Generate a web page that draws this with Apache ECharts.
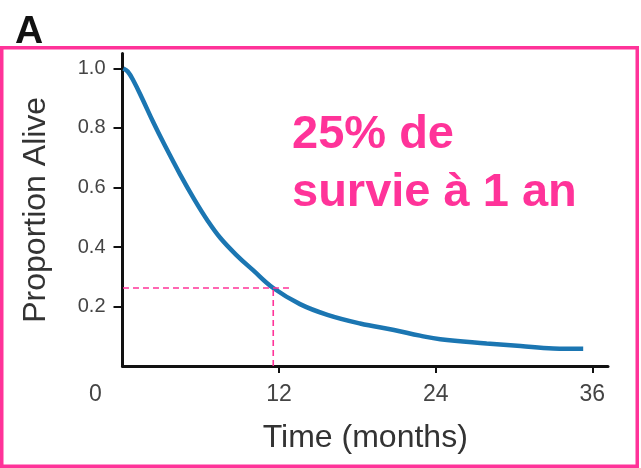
<!DOCTYPE html>
<html>
<head>
<meta charset="utf-8">
<script src="https://cdn.jsdelivr.net/npm/echarts@6/dist/echarts.min.js"></script>
<style>
  html, body { margin: 0; padding: 0; background: #fff; }
  #chart { width: 641px; height: 468px; }
</style>
</head>
<body>
<div id="chart"></div>
<script>
// Kaplan-Meier style survival curve: months since start vs proportion alive
const months   = [0.06, 0.4, 0.85, 1.5, 2.35, 3.2, 4.4, 5.5, 6.5, 7.5, 8.75, 10.0, 11.55, 13.6, 15.7, 18.2, 20.8, 22.8, 24.35, 27.9, 30.5, 33.0, 35.3];
const survival = [1.0, 0.99, 0.958, 0.90, 0.82, 0.745, 0.645, 0.56, 0.49, 0.43, 0.372, 0.322, 0.262, 0.208, 0.172, 0.143, 0.121, 0.102, 0.090, 0.076, 0.067, 0.059, 0.058];

// axis ticks and labels
const xTicks  = [12, 24, 36];
const xLabels = [0, 12, 24, 36];
const yTicks  = [0.2, 0.4, 0.6, 0.8, 1.0];

// one-year reference point
const guideMonth = 11.55;
const guideValue = 0.262;
const guideFrom  = -0.73;
const guideTo    = 12.8;

const annotation = ['25% de', 'survie à 1 an'];

const pink = '#ff3399';
const curveData = months.map((m, i) => [m, survival[i]]);

const chart = echarts.init(document.getElementById('chart'), null, { renderer: 'canvas' });

chart.setOption({
  animation: false,
  backgroundColor: '#ffffff',
  grid: { left: 122.5, right: 33, top: 53.6, bottom: 102, containLabel: false },
  xAxis: {
    type: 'value',
    min: 0,
    max: 37.2,
    interval: 12,
    name: 'Time (months)',
    nameLocation: 'middle',
    nameGap: 56,
    nameTextStyle: { fontFamily: 'Liberation Sans', fontSize: 32, color: '#333' },
    axisLine: { show: true, lineStyle: { color: '#111', width: 3 } },
    axisTick: { show: true, customValues: xTicks, length: 7, lineStyle: { color: '#111', width: 2 } },
    axisLabel: {
      customValues: xLabels,
      margin: 17,
      fontFamily: 'Liberation Sans',
      fontSize: 23,
      color: '#444',
      formatter: v => v === 0 ? '{z|0}' : String(v),
      rich: { z: { fontFamily: 'Liberation Sans', fontSize: 23, color: '#444', padding: [0, 54, 0, 0] } }
    },
    splitLine: { show: false }
  },
  yAxis: {
    type: 'value',
    min: 0,
    max: 1.05,
    interval: 0.2,
    name: 'Proportion Alive',
    nameLocation: 'middle',
    nameGap: 70,
    nameTextStyle: { fontFamily: 'Liberation Sans', fontSize: 32, color: '#333' },
    axisLine: { show: true, lineStyle: { color: '#111', width: 3 } },
    axisTick: { show: true, customValues: yTicks, length: 9, lineStyle: { color: '#111', width: 2 } },
    axisLabel: {
      customValues: yTicks,
      margin: 17,
      fontFamily: 'Liberation Sans',
      fontSize: 20,
      color: '#444',
      formatter: v => v.toFixed(1)
    },
    splitLine: { show: false }
  },
  series: [
    {
      name: 'survival',
      type: 'line',
      data: curveData,
      smooth: 0.4,
      showSymbol: false,
      symbol: 'none',
      lineStyle: { color: '#1b76b2', width: 4.5 },
      z: 3
    },
    {
      name: 'guide-h',
      type: 'line',
      data: [[guideFrom, guideValue], [guideTo, guideValue]],
      clip: false,
      symbol: 'none',
      lineStyle: { color: pink, width: 1.6, type: [6, 4] },
      z: 4
    },
    {
      name: 'guide-v',
      type: 'line',
      data: [[guideMonth, 0], [guideMonth, guideValue]],
      clip: false,
      symbol: 'none',
      lineStyle: { color: pink, width: 1.6, type: [6, 4] },
      z: 4
    }
  ],
  graphic: [
    {
      type: 'rect',
      shape: { x: 1.75, y: 47.75, width: 635.5, height: 418.5 },
      style: { fill: 'none', stroke: pink, lineWidth: 3.5 },
      z: 10
    },
    {
      type: 'text',
      left: 15,
      top: 13,
      style: { text: 'A', font: 'bold 39px "Liberation Sans", Arial, sans-serif', fill: '#111' }
    },
    {
      type: 'text',
      x: 292,
      y: 135,
      style: { text: annotation[0], font: 'bold 47px "Liberation Sans", Arial, sans-serif', fill: pink, verticalAlign: 'middle' }
    },
    {
      type: 'text',
      x: 292,
      y: 193,
      style: { text: annotation[1], font: 'bold 47px "Liberation Sans", Arial, sans-serif', fill: pink, verticalAlign: 'middle' }
    }
  ]
});
</script>
</body>
</html>
